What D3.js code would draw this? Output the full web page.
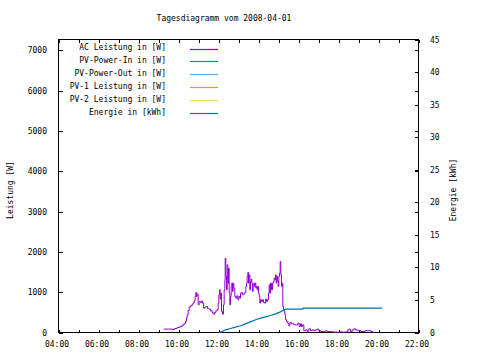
<!DOCTYPE html>
<html>
<head>
<meta charset="utf-8">
<script src="https://cdn.jsdelivr.net/npm/d3@7/dist/d3.min.js"></script>
<style>
  html, body { margin: 0; padding: 0; background: #ffffff; }
  svg { display: block; }
  text { font-family: "DejaVu Sans Mono", "Liberation Mono", monospace; font-size: 8px; fill: #000; }
</style>
</head>
<body>
<svg id="chart" width="480" height="360"></svg>
<script>
// ---------- DATA ----------
const chartTitle = "Tagesdiagramm vom 2008-04-01";
const yLabel = "Leistung [W]";
const y2Label = "Energie [kWh]";

const seriesNames = [
  "AC Leistung in [W]",
  "PV-Power-In in [W]",
  "PV-Power-Out in [W]",
  "PV-1 Leistung in [W]",
  "PV-2 Leistung in [W]",
  "Energie in [kWh]"
];
const seriesColors = ["#9400d3", "#009e73", "#56b4e9", "#e69f00", "#f0e442", "#0072b2"];

// AC Leistung [W]
const acTimes = [
  "09:16","09:31","09:41","09:48","09:56","10:04","10:11","10:16","10:21","10:24",
  "10:26","10:29","10:32","10:36","10:41","10:44","10:47","10:50","10:52","10:54",
  "10:56","10:59","11:02","11:06","11:09","11:12","11:15","11:19","11:23","11:27",
  "11:31","11:36","11:41","11:44","11:48","11:52","11:56","11:59","12:01","12:03",
  "12:05","12:07","12:09","12:12","12:15","12:17","12:19","12:20","12:22","12:24",
  "12:26","12:28","12:30","12:32","12:34","12:36","12:38","12:40","12:42","12:44",
  "12:46","12:49","12:52","12:55","12:58","13:01","13:04","13:06","13:09","13:12",
  "13:16","13:19","13:22","13:24","13:26","13:28","13:30","13:32","13:34","13:36",
  "13:38","13:40","13:42","13:44","13:46","13:48","13:50","13:52","13:54","13:56",
  "13:58","14:00","14:02","14:04","14:06","14:09","14:12","14:15","14:18","14:21",
  "14:24","14:27","14:30","14:32","14:34","14:36","14:39","14:42","14:45","14:47",
  "14:49","14:51","14:53","14:55","14:57","14:59","15:01","15:03","15:05","15:07",
  "15:09","15:11","15:13","15:15","15:17","15:19","15:21","15:24","15:28","15:31",
  "15:34","15:38","15:46","15:54","15:58","16:02","16:06","16:09","16:12","16:16",
  "16:21","16:26","16:31","16:36","16:41","16:46","16:51","16:56","17:01","17:06",
  "17:16","17:21","17:26","17:36","17:46","17:56","18:06","18:11","18:21","18:28",
  "18:32","18:36","18:41","18:46","18:51","18:56","19:01","19:06","19:16","19:21",
  "19:26","19:31","19:36","19:41","19:46"
];
const acValues = [
  84,84,75,100,125,150,183,216,274,357,
  439,547,630,663,704,729,795,894,994,894,
  952,688,770,745,779,729,605,630,646,596,
  580,539,497,456,497,539,563,729,936,1060,
  828,977,522,456,688,1060,1308,1846,1391,1060,
  1680,1225,1598,977,688,894,1142,1225,1018,1225,
  1101,894,853,911,812,894,853,977,994,936,
  961,994,1142,1225,1391,1490,1225,1432,1060,1267,
  1325,1225,1018,1184,1225,1142,1225,1101,1142,1060,
  1142,977,894,729,812,770,812,745,729,828,
  770,812,977,1184,977,1225,1060,1225,1267,1349,
  1308,1432,1225,1391,1267,1142,1391,1473,1763,1432,
  1142,1225,646,563,522,439,315,274,216,166,
  249,216,191,191,233,150,216,150,191,42,
  67,26,92,50,67,50,67,84,42,26,
  26,42,26,17,8,8,17,8,17,67,
  84,26,67,92,67,42,50,26,26,50,
  42,50,26,8,0
];

// Energie [kWh]
const energyTimes = [
  "12:01","12:11","12:21","12:36","12:51","13:06","13:21","13:36","13:51","14:06",
  "14:21","14:36","14:51","15:06","15:16","15:21","16:13","16:14","20:11"
];
const energyValues = [
  0.0,0.16,0.41,0.62,0.82,1.03,1.33,1.64,1.95,2.2,
  2.4,2.61,2.86,3.17,3.48,3.58,3.58,3.73,3.73
];

const xTickHours = [4,5,6,7,8,9,10,11,12,13,14,15,16,17,18,19,20,21,22];
const yTicks = [0,1000,2000,3000,4000,5000,6000,7000];
const y2Ticks = [0,5,10,15,20,25,30,35,40,45];

// ---------- LAYOUT ----------
const L = 58.5, R = 418.5, T = 39.5, B = 332.5;
const svg = d3.select("#chart");
const parse = d3.timeParse("%H:%M");
const day = (h) => { const d = parse("00:00"); d.setHours(h); return d; };

const x = d3.scaleTime().domain([day(4), day(22)]).range([L, R]);
const y = d3.scaleLinear().domain([0, 7270]).range([B, T]);
const y2 = d3.scaleLinear().domain([0, 45]).range([B, T]);

const tickVals = xTickHours.map(day);
const fmt = d3.timeFormat("%H:%M");

// bottom axis
const gx = svg.append("g").attr("transform", `translate(0,${B})`)
  .call(d3.axisBottom(x).tickValues(tickVals).tickSizeInner(-3).tickSizeOuter(0).tickPadding(9)
    .tickFormat(d => d.getHours() % 2 === 0 ? fmt(d) : ""));
// top axis (mirror ticks)
const gxt = svg.append("g").attr("transform", `translate(0,${T})`)
  .call(d3.axisTop(x).tickValues(tickVals).tickSizeInner(-3).tickSizeOuter(0).tickFormat(""));
// left axis
const gy = svg.append("g").attr("transform", `translate(${L},0)`)
  .call(d3.axisLeft(y).tickValues(yTicks).tickSizeInner(-4).tickSizeOuter(0).tickPadding(11.5)
    .tickFormat(d3.format("d")));
// right: mirror of y1 ticks
const gym = svg.append("g").attr("transform", `translate(${R},0)`)
  .call(d3.axisRight(y).tickValues(yTicks).tickSizeInner(-4).tickSizeOuter(0).tickFormat(""));
// right: y2 axis
const gy2 = svg.append("g").attr("transform", `translate(${R},0)`)
  .call(d3.axisRight(y2).tickValues(y2Ticks).tickSizeInner(-4).tickSizeOuter(0).tickPadding(11.5)
    .tickFormat(d3.format("d")));

svg.selectAll(".domain").remove();
svg.selectAll(".tick line").attr("stroke", "#000").attr("shape-rendering", "crispEdges");
svg.selectAll(".tick text").attr("font-family", null).attr("font-size", null).attr("fill", "#000");
gx.selectAll(".tick text").attr("dx", -2);

// frame
svg.append("rect").attr("x", L).attr("y", T).attr("width", R - L).attr("height", B - T)
  .attr("fill", "none").attr("stroke", "#000").attr("stroke-width", 1).attr("shape-rendering", "crispEdges");

// title & axis labels
svg.append("text").attr("x", 224).attr("y", 21).attr("text-anchor", "middle").text(chartTitle);
svg.append("text").attr("transform", "translate(12.5,190) rotate(-90)").attr("text-anchor", "middle").text(yLabel);
svg.append("text").attr("transform", "translate(455.5,190) rotate(-90)").attr("text-anchor", "middle").text(y2Label);

// lines
const acData = acTimes.map((t, i) => ({ t: parse(t), v: acValues[i] }));
const enData = energyTimes.map((t, i) => ({ t: parse(t), v: energyValues[i] }));

svg.append("path").datum(acData)
  .attr("d", d3.line().x(d => x(d.t)).y(d => y(d.v)).curve(d3.curveStepAfter))
  .attr("fill", "none").attr("stroke", seriesColors[0]).attr("stroke-width", 1);

svg.append("path").datum(enData)
  .attr("d", d3.line().x(d => x(d.t)).y(d => y2(d.v)))
  .attr("fill", "none").attr("stroke", seriesColors[5]).attr("stroke-width", 1.2);

// legend
const leg = svg.append("g");
seriesNames.forEach((name, i) => {
  const ly = 47.5 + i * 12.9;
  leg.append("text").attr("x", 166).attr("y", ly + 2.8).attr("text-anchor", "end").text(name);
  leg.append("line").attr("x1", 190).attr("x2", 218).attr("y1", Math.round(ly) + 1.5).attr("y2", Math.round(ly) + 1.5)
    .attr("stroke", seriesColors[i]).attr("stroke-width", 1.2);
});
</script>
</body>
</html>
